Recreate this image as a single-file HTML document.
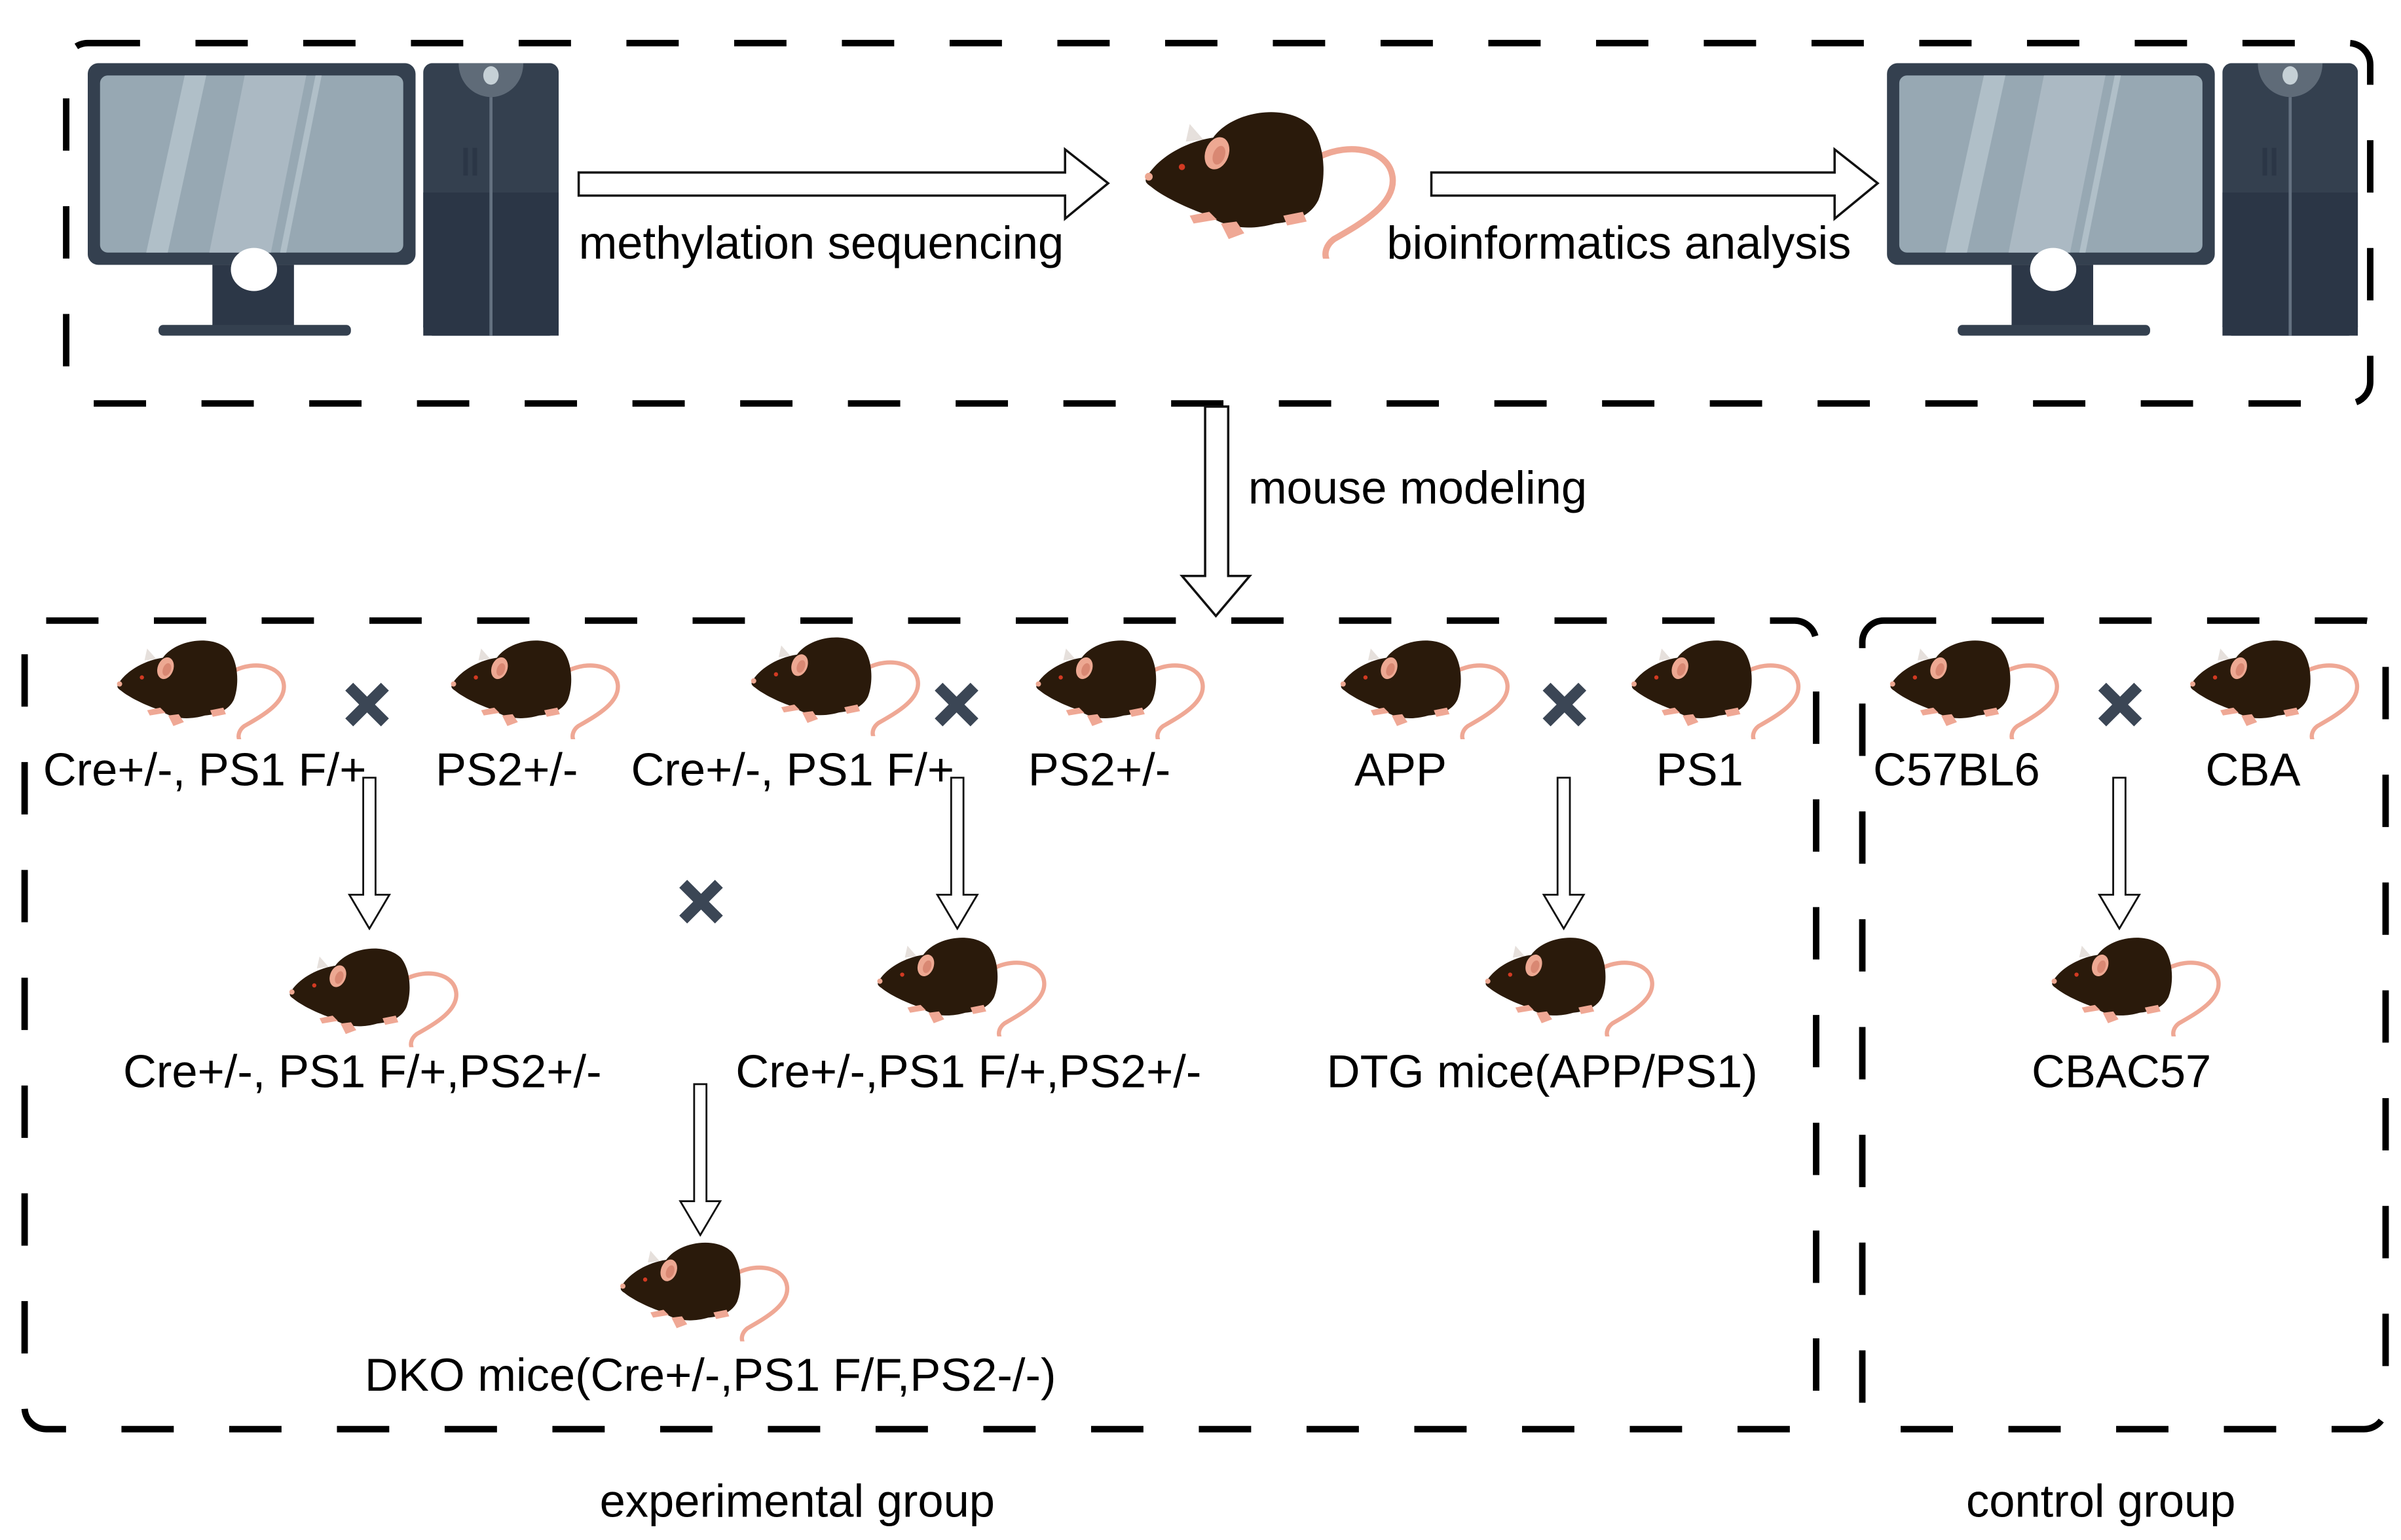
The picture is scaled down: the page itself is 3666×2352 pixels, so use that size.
<!DOCTYPE html>
<html><head><meta charset="utf-8"><style>
html,body{margin:0;padding:0;background:#fff;}
svg{display:block;}
text{font-family:"Liberation Sans",sans-serif;fill:#000;}
</style></head><body>
<svg width="3666" height="2352" viewBox="0 0 1560 1000" preserveAspectRatio="none" xmlns="http://www.w3.org/2000/svg">
<defs>
<symbol id="mouse" viewBox="0 0 150 82">
  <path d="M96,30 C112,22 132,26 134,40 C136,54 118,64 104,72 C100,75 99,79 100,82" fill="none" stroke="#efa895" stroke-width="3.2" stroke-linecap="round"/>
  <path d="M28,22 L30,13 L37,21 Z" fill="#e6e0dc"/>
  <path d="M8,40 C14,30 28,22 42,20 C52,6 80,2 92,14 C100,24 100,42 96,52 C92,60 84,63 74,64 C60,68 48,66 40,60 C28,56 16,50 10,45 C7,43 7,42 8,40 Z" fill="#2a1a0b"/>
  <ellipse cx="44" cy="28" rx="6" ry="8.5" fill="#eda892" transform="rotate(20 44 28)"/>
  <ellipse cx="45" cy="29" rx="3" ry="5" fill="#d98873" transform="rotate(20 45 29)"/>
  <circle cx="26" cy="35" r="1.6" fill="#d23a22"/>
  <circle cx="9" cy="40" r="2" fill="#eda892"/>
  <path d="M30,60 l10,-2 l4,4 l-12,2 Z M46,64 l8,-1 l4,6 l-8,3 Z M78,60 l10,-2 l2,5 l-10,2 Z" fill="#efa895"/>
</symbol>
<symbol id="pc" viewBox="0 0 306 177">
  <rect x="0" y="0" width="213" height="131" rx="7" fill="#34404f"/>
  <rect x="8" y="8" width="197" height="115" rx="5" fill="#97a8b3"/>
  <polygon points="63,8 77,8 52,123 38,123" fill="#b0bfc8"/>
  <polygon points="102,8 142,8 119,123 79,123" fill="#abb9c3"/>
  <polygon points="148,8 152,8 129,123 125,123" fill="#b0bfc8"/>
  <rect x="81" y="131" width="53" height="40" fill="#2c3747"/>
  <ellipse cx="108" cy="134" rx="15" ry="14" fill="#fff"/>
  <rect x="46" y="170" width="125" height="7" rx="3" fill="#34404f"/>
  <rect x="218" y="0" width="88" height="177" rx="6" fill="#34404f"/>
  <rect x="218" y="84" width="88" height="93" fill="#2b3646"/>
  <rect x="218" y="165" width="88" height="12" rx="6" fill="#2b3646"/>
  <path d="M241,0 L283,0 C283,14 272,22 262,22 C252,22 241,14 241,0 Z" fill="#5f6b78"/>
  <ellipse cx="262" cy="8" rx="5" ry="6" fill="#c5d0d6"/>
  <rect x="261" y="22" width="2" height="155" fill="#647180"/>
  <rect x="244" y="55" width="3" height="18" fill="#2b3646"/>
  <rect x="250" y="55" width="3" height="18" fill="#2b3646"/>
</symbol>
<symbol id="xm" viewBox="0 0 30 30">
  <path d="M3,3 L15,15 M27,3 L15,15 M3,27 L15,15 M27,27 L15,15" stroke="#3b4655" stroke-width="7.5" stroke-linecap="butt"/>
</symbol>
<symbol id="darr" viewBox="0 0 30 100">
  <polygon points="11,1 19,1 19,77 28,77 15,99 2,77 11,77" fill="#fff" stroke="#111" stroke-width="1.2"/>
</symbol>
</defs>

<g fill="none" stroke="#000" stroke-width="4.2" stroke-dasharray="34 36">
  <rect x="43" y="28" width="1497" height="234" rx="14"/>
  <rect x="16" y="403" width="1164" height="525" rx="14"/>
  <rect x="1210" y="403" width="340" height="525" rx="14"/>
</g>

<use href="#pc" x="57" y="41" width="306" height="177"/>
<use href="#pc" x="1226" y="41" width="306" height="177"/>

<polygon points="376,112 692,112 692,97 720,119 692,142 692,127 376,127" fill="#fff" stroke="#111" stroke-width="1.5"/>
<polygon points="930,112 1192,112 1192,97 1220,119 1192,142 1192,127 930,127" fill="#fff" stroke="#111" stroke-width="1.5"/>
<text x="376" y="168" font-size="30">methylation sequencing</text>
<text x="901" y="168" font-size="30">bioinformatics analysis</text>

<use href="#mouse" x="735" y="64" width="190" height="104"/>

<polygon points="783,264 798,264 798,374 812,374 790,400 768,374 783,374" fill="#fff" stroke="#111" stroke-width="1.5"/>
<text x="811" y="327" font-size="30">mouse modeling</text>

<use href="#mouse" x="70" y="410" width="128" height="70"/>
<use href="#mouse" x="287" y="410" width="128" height="70"/>
<use href="#mouse" x="482" y="408" width="128" height="70"/>
<use href="#mouse" x="667" y="410" width="128" height="70"/>
<use href="#mouse" x="865" y="410" width="128" height="70"/>
<use href="#mouse" x="1054" y="410" width="128" height="70"/>
<use href="#mouse" x="1222" y="410" width="128" height="70"/>
<use href="#mouse" x="1417" y="410" width="128" height="70"/>

<use href="#xm" x="224" y="443" width="29" height="29"/>
<use href="#xm" x="607" y="443" width="29" height="29"/>
<use href="#xm" x="1002" y="443" width="29" height="29"/>
<use href="#xm" x="1363" y="443" width="29" height="29"/>
<use href="#xm" x="441" y="571" width="29" height="29"/>

<g font-size="30">
<text x="28" y="510">Cre+/-, PS1 F/+</text>
<text x="283" y="510">PS2+/-</text>
<text x="410" y="510">Cre+/-, PS1 F/+</text>
<text x="668" y="510">PS2+/-</text>
<text x="880" y="510">APP</text>
<text x="1076" y="510">PS1</text>
<text x="1217" y="510">C57BL6</text>
<text x="1433" y="510">CBA</text>
</g>

<use href="#darr" x="225" y="504" width="30" height="100"/>
<use href="#darr" x="607" y="504" width="30" height="100"/>
<use href="#darr" x="1001" y="504" width="30" height="100"/>
<use href="#darr" x="1362" y="504" width="30" height="100"/>
<use href="#darr" x="440" y="703" width="30" height="100"/>

<use href="#mouse" x="182" y="610" width="128" height="70"/>
<use href="#mouse" x="564" y="603" width="128" height="70"/>
<use href="#mouse" x="959" y="603" width="128" height="70"/>
<use href="#mouse" x="1327" y="603" width="128" height="70"/>
<g font-size="30">
<text x="80" y="706">Cre+/-, PS1 F/+,PS2+/-</text>
<text x="478" y="706">Cre+/-,PS1 F/+,PS2+/-</text>
<text x="862" y="706">DTG mice(APP/PS1)</text>
<text x="1320" y="706">CBAC57</text>
</g>

<use href="#mouse" x="397" y="801" width="128" height="70"/>
<text x="237" y="903" font-size="30">DKO mice(Cre+/-,PS1 F/F,PS2-/-)</text>

<text x="518" y="985" font-size="30" text-anchor="middle">experimental group</text>
<text x="1365" y="985" font-size="30" text-anchor="middle">control group</text>
</svg>
</body></html>
